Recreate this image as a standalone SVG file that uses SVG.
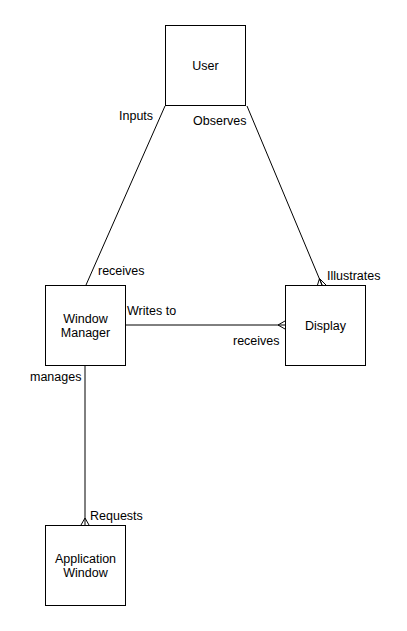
<svg xmlns="http://www.w3.org/2000/svg" width="407" height="631" viewBox="0 0 407 631">
<style>
.box{fill:#fff;stroke:#000;stroke-width:1}
.t{font-family:"Liberation Sans",Arial,sans-serif;font-size:12.5px;fill:#000}
.c{text-anchor:middle}
.ln{stroke:#000;stroke-width:1;fill:none}
</style>
<rect width="407" height="631" fill="#fff"/>
<g id="connectors">
<line class="ln" x1="165" y1="106" x2="86" y2="285"/>
<line class="ln" x1="247" y1="106" x2="322" y2="285"/>
<path class="ln" d="M319.5,278.5 L317.5,285 M319.5,278.5 L322,285 M319.5,278.5 L326,285"/>
<line class="ln" x1="125" y1="325" x2="285" y2="325"/>
<path class="ln" d="M278,325 L285,321 M278,325 L285,329"/>
<line class="ln" x1="85" y1="365" x2="85" y2="525"/>
<path class="ln" d="M85,518 L81,525 M85,518 L89,525"/>
<text class="t" x="119" y="120">Inputs</text>
<text class="t" x="193" y="125">Observes</text>
<text class="t" x="98" y="275">receives</text>
<text class="t" x="327" y="280">Illustrates</text>
<text class="t" x="127" y="315">Writes to</text>
<text class="t" x="233" y="345">receives</text>
<text class="t" x="30" y="381">manages</text>
<text class="t" x="90" y="520">Requests</text>
</g>
<g id="user">
<rect class="box" x="165.5" y="25.5" width="80" height="80"/>
<text class="t c" x="205.5" y="70">User</text>
</g>
<g id="window-manager">
<rect class="box" x="45.5" y="285.5" width="80" height="80"/>
<text class="t c" x="85.5" y="323">Window</text>
<text class="t c" x="85.5" y="337">Manager</text>
</g>
<g id="display">
<rect class="box" x="285.5" y="285.5" width="80" height="80"/>
<text class="t c" x="325.5" y="330">Display</text>
</g>
<g id="application-window">
<rect class="box" x="45.5" y="525.5" width="80" height="80"/>
<text class="t c" x="85.5" y="563">Application</text>
<text class="t c" x="85.5" y="577">Window</text>
</g>
</svg>
